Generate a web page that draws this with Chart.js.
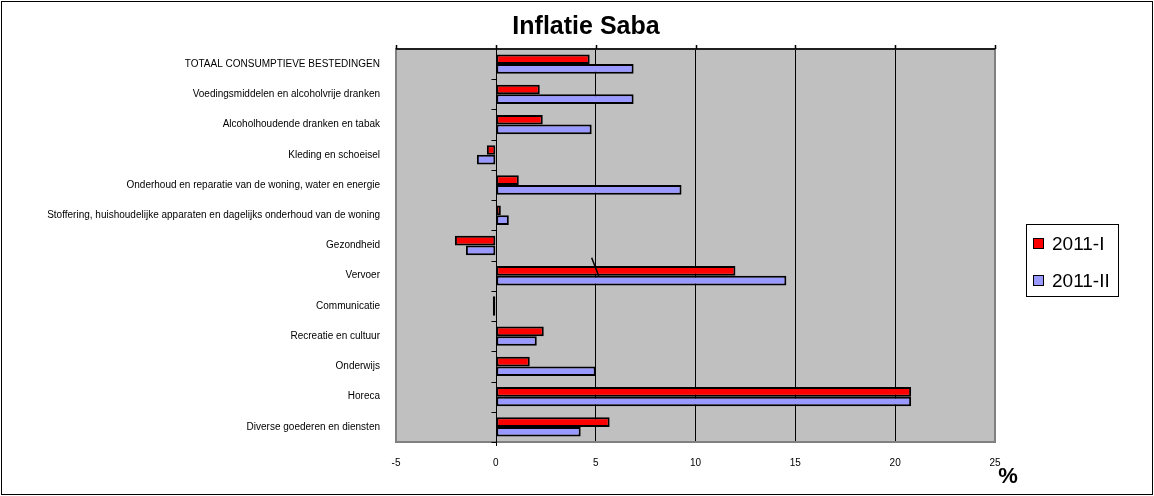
<!DOCTYPE html>
<html lang="nl">
<head>
<meta charset="UTF-8">
<title>Inflatie Saba</title>
<script src="https://cdn.jsdelivr.net/npm/chart.js"></script>
<style>
  html, body { margin: 0; padding: 0; background: #fff; }
  canvas { display: block; }
</style>
</head>
<body>
<canvas id="chart" width="1154" height="496"></canvas>
<script>
// categories (top to bottom)
const categories = [
  'TOTAAL CONSUMPTIEVE BESTEDINGEN',
  'Voedingsmiddelen en alcoholvrije dranken',
  'Alcoholhoudende dranken en tabak',
  'Kleding en schoeisel',
  'Onderhoud en reparatie van de woning, water en energie',
  'Stoffering, huishoudelijke apparaten en dagelijks onderhoud van de woning',
  'Gezondheid',
  'Vervoer',
  'Communicatie',
  'Recreatie en cultuur',
  'Onderwijs',
  'Horeca',
  'Diverse goederen en diensten'
];
const series1 = [4.7, 2.2, 2.35, -0.45, 1.15, 0.25, -2.05, 12.0, -0.15, 2.4, 1.7, 20.8, 5.7];
const series2 = [6.9, 6.9, 4.8, -0.95, 9.3, 0.65, -1.5, 14.55, -0.15, 2.05, 5.0, 20.8, 4.25];
const seriesNames = ['2011-I', '2011-II'];
const xTicks = [-5, 0, 5, 10, 15, 20, 25];

const FONT = 'Arial, "Liberation Sans", sans-serif';

const decor = {
  id: 'decor',
  beforeDraw(chart) {
    const { ctx, chartArea: a } = chart;
    ctx.save();
    ctx.fillStyle = '#fff';
    ctx.fillRect(0, 0, chart.width, chart.height);
    ctx.fillStyle = '#C0C0C0';
    ctx.fillRect(a.left, a.top, a.right - a.left, a.bottom - a.top);
    ctx.restore();
  },
  afterDraw(chart) {
    const { ctx, chartArea: a, scales } = chart;
    const x0 = Math.round(scales.x.getPixelForValue(0)) + 0.5;
    ctx.save();
    // outer frame
    ctx.strokeStyle = '#000';
    ctx.lineWidth = 1;
    ctx.strokeRect(1.5, 1.5, chart.width - 3, chart.height - 3);
    // plot border
    ctx.strokeStyle = '#808080';
    ctx.lineWidth = 2;
    ctx.strokeRect(a.left, a.top, a.right - a.left, a.bottom - a.top);
    // top axis line with ticks
    ctx.strokeStyle = '#000';
    ctx.lineWidth = 1.5;
    ctx.beginPath();
    ctx.moveTo(a.left, a.top);
    ctx.lineTo(a.right, a.top);
    xTicks.forEach(v => {
      const px = Math.round(scales.x.getPixelForValue(v)) + 0.5;
      ctx.moveTo(px, a.top);
      ctx.lineTo(px, a.top - 4);
    });
    ctx.stroke();
    // zero axis and category ticks
    ctx.lineWidth = 1;
    ctx.beginPath();
    ctx.moveTo(x0, a.top);
    ctx.lineTo(x0, a.bottom + 4);
    const n = categories.length;
    for (let i = 1; i <= n; i++) {
      const py = Math.round(a.top + i * (a.bottom - a.top) / n) + 0.5;
      ctx.moveTo(x0 - 5, py);
      ctx.lineTo(x0, py);
    }
    ctx.stroke();
    // stray stroke near Vervoer
    const iv = categories.indexOf('Vervoer');
    ctx.lineWidth = 1.5;
    ctx.beginPath();
    ctx.moveTo(scales.x.getPixelForValue(4.8), scales.y.getPixelForValue(iv) - 18);
    ctx.lineTo(scales.x.getPixelForValue(5.15), scales.y.getPixelForValue(iv));
    ctx.stroke();
    // title
    ctx.fillStyle = '#000';
    ctx.textAlign = 'center';
    ctx.textBaseline = 'middle';
    ctx.font = 'bold 25px ' + FONT;
    ctx.fillText('Inflatie Saba', 586, 27);
    // percent sign
    ctx.font = 'bold 22px ' + FONT;
    ctx.fillText('%', 1008, 477);
    // legend
    ctx.strokeStyle = '#000';
    ctx.lineWidth = 1;
    ctx.strokeRect(1026.5, 224.5, 92, 72);
    const colors = ['#FF0000', '#9999FF'];
    const rows = [244, 281];
    ctx.textAlign = 'left';
    ctx.font = '19px ' + FONT;
    seriesNames.forEach((name, i) => {
      ctx.fillStyle = colors[i];
      ctx.fillRect(1033.5, rows[i] - 5.5, 10, 10);
      ctx.strokeRect(1033.5, rows[i] - 5.5, 10, 10);
      ctx.fillStyle = '#000';
      ctx.fillText(name, 1052, rows[i] + 1);
    });
    ctx.restore();
  }
};

new Chart(document.getElementById('chart'), {
  type: 'bar',
  data: {
    labels: categories,
    datasets: [
      { label: seriesNames[0], data: series1, backgroundColor: '#FF0000', borderColor: '#000', borderWidth: 2, borderSkipped: false },
      { label: seriesNames[1], data: series2, backgroundColor: '#9999FF', borderColor: '#000', borderWidth: 2, borderSkipped: false }
    ]
  },
  options: {
    indexAxis: 'y',
    responsive: false,
    animation: false,
    devicePixelRatio: 1,
    categoryPercentage: 0.64,
    barPercentage: 1.0,
    layout: { padding: { left: 0, top: 49, right: 159, bottom: 0 } },
    plugins: {
      legend: { display: false },
      title: { display: false },
      tooltip: { enabled: false }
    },
    scales: {
      x: {
        type: 'linear',
        min: -5,
        max: 25,
        afterBuildTicks: s => { s.ticks = xTicks.map(v => ({ value: v })); },
        afterFit: s => { s.height = 54; },
        border: { display: false },
        grid: {
          drawTicks: false,
          color: c => (c.tick && c.tick.value > 0 && c.tick.value < 25) ? '#000' : 'rgba(0,0,0,0)',
          lineWidth: 1
        },
        ticks: { color: '#000', font: { family: FONT, size: 10 }, padding: 15 }
      },
      y: {
        afterFit: s => { s.width = 396; },
        border: { display: false },
        grid: { display: false },
        ticks: { color: '#000', font: { family: FONT, size: 10 }, padding: 8, autoSkip: false }
      }
    }
  },
  plugins: [decor]
});
</script>
</body>
</html>
